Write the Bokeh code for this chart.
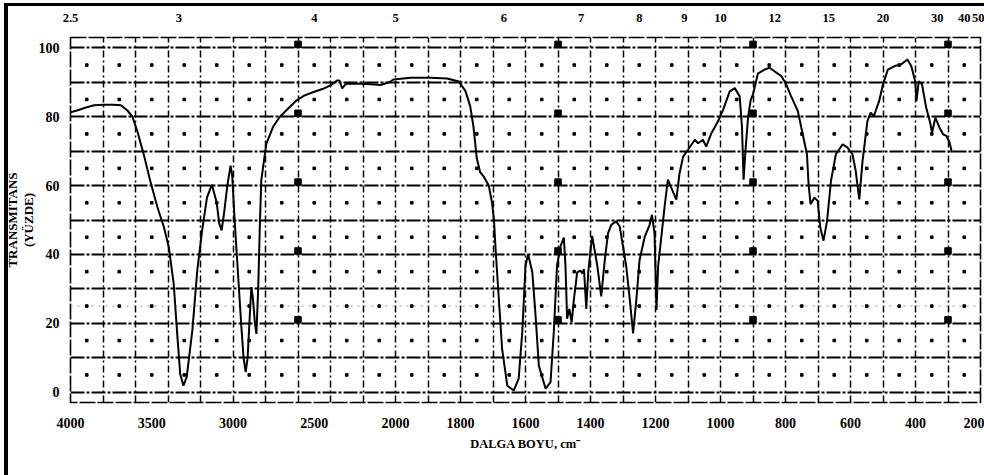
import numpy as np
from bokeh.plotting import figure
from bokeh.models import (LinearAxis, FixedTicker, CustomJSTickFormatter, Range1d,
                          ColumnDataSource)
from bokeh.embed import file_html
from bokeh.resources import INLINE

# ---------------- data ----------------
wavenumber = [4000, 3960, 3910, 3855, 3795, 3735, 3690, 3650, 3620, 3590, 3550, 3510,
              3465, 3425, 3395, 3365, 3345, 3325, 3305, 3285, 3250, 3220, 3190, 3160,
              3130, 3100, 3085, 3070, 3055, 3035, 3015, 3005, 2990, 2970, 2950, 2935,
              2922, 2910, 2897, 2887, 2877, 2865, 2856, 2845, 2835, 2826, 2795, 2754,
              2713, 2662, 2610, 2559, 2508, 2446, 2400, 2360, 2345, 2328, 2310, 2297,
              2215, 2150, 2092, 2040, 2012, 1954, 1892, 1841, 1805, 1785, 1770, 1760,
              1750, 1740, 1728, 1713, 1703, 1697, 1692, 1682, 1672, 1656, 1636, 1621,
              1610, 1600, 1592, 1579, 1569, 1559, 1538, 1523, 1513, 1503, 1492, 1482,
              1477, 1472, 1465, 1458, 1451, 1441, 1431, 1425, 1420, 1413, 1407, 1395,
              1379, 1367, 1356, 1346, 1336, 1321, 1310, 1300, 1290, 1279, 1269, 1259,
              1249, 1233, 1218, 1211, 1203, 1197, 1192, 1182, 1172, 1162, 1149, 1136,
              1126, 1115, 1100, 1079, 1069, 1054, 1044, 1028, 1008, 992, 972, 956,
              941, 934, 929, 923, 915, 907, 900, 885, 864, 849, 834, 813, 798, 783,
              762, 747, 734, 729, 723, 711, 701, 693, 683, 672, 660, 645, 624, 609,
              594, 584, 573, 563, 548, 538, 528, 512, 500, 485, 464, 444, 425, 413,
              401, 397, 390, 380, 367, 356, 349, 339, 326, 315, 305, 295, 288]
transmittance = [81.3, 81.8, 82.6, 83.3, 83.5, 83.5, 83.3, 81.8, 80.1, 76.0, 69.2, 61.5,
                 53.7, 47.9, 42.1, 31.5, 18.0, 5.3, 1.9, 4.4, 18.0, 35.3, 47.0, 56.6,
                 60.3, 55.0, 49.0, 47.0, 52.0, 60.0, 65.8, 63.0, 50.0, 35.0, 20.0, 10.0,
                 5.8, 10.0, 22.0, 30.5, 27.0, 20.0, 16.9, 30.0, 48.0, 61.5, 72.1, 77.0,
                 79.9, 82.3, 84.7, 86.2, 87.1, 88.1, 89.1, 90.5, 90.5, 88.2, 89.3, 89.6,
                 89.6, 89.4, 89.2, 90.0, 90.8, 91.3, 91.3, 91.1, 90.2, 87.5, 83.0, 77.0,
                 68.0, 64.0, 62.5, 60.0, 55.0, 50.0, 41.5, 27.0, 12.6, 1.9, 0.5, 3.9,
                 17.4, 36.7, 40.1, 34.8, 22.2, 7.7, 1.0, 2.9, 17.4, 36.7, 42.5, 44.9,
                 36.7, 21.3, 24.2, 20.3, 27.0, 34.8, 35.3, 34.5, 35.7, 24.2, 34.8, 45.4,
                 36.7, 27.8, 38.4, 46.2, 48.6, 49.6, 48.1, 42.3, 36.5, 26.8, 17.1, 26.8,
                 38.4, 45.2, 48.6, 51.5, 46.2, 23.9, 36.5, 45.2, 53.9, 61.7, 58.8, 55.9,
                 63.6, 68.4, 70.4, 73.3, 72.3, 73.3, 71.3, 75.2, 78.6, 82.0, 87.3, 88.3,
                 85.9, 77.2, 61.7, 70.4, 80.0, 84.9, 86.5, 92.5, 93.7, 94.2, 93.2, 91.8,
                 89.4, 86.0, 81.6, 74.9, 69.1, 60.4, 54.6, 56.5, 55.6, 47.8, 44.0, 49.8,
                 61.4, 69.1, 72.0, 71.0, 69.1, 64.3, 56.0, 67.1, 78.7, 81.2, 80.2, 84.5,
                 89.4, 93.7, 94.7, 95.2, 96.6, 94.7, 90.3, 84.5, 90.3, 89.4, 82.6, 78.7,
                 75.4, 79.7, 76.8, 74.9, 74.4, 72.5, 69.6]

bottom_tick_wn = [4000, 3500, 3000, 2500, 2000, 1800, 1600, 1400, 1200, 1000, 800, 600, 400, 200]
top_tick_um = [2.5, 3, 4, 5, 6, 7, 8, 9, 10, 12, 15, 20, 30, 40, 50]
y_ticks = [0, 20, 40, 60, 80, 100]
grid_wn = list(range(4000, 2000, -200)) + list(range(2000, 199, -100))
grid_t = list(range(0, 101, 10))
calib_wn = [2600, 1500, 900, 300]
calib_t = [21, 41, 61, 81, 101]

# chart paper: 200 cm-1 per division above 2000, 100 cm-1 per division below
WN_BREAK = [200, 2000, 4000]
DIV_BREAK = [28, 10, 0]


def to_div(w):
    return np.interp(np.asarray(w, dtype=float), WN_BREAK, DIV_BREAK)


FONT = "Liberation Serif"
W, H = 984, 475

p = figure(width=W, height=H, x_range=Range1d(0, 28), y_range=Range1d(-3, 103),
           output_backend="svg", toolbar_location=None,
           min_border_left=70, min_border_right=4, min_border_top=37, min_border_bottom=73,
           x_axis_location=None, y_axis_location=None)
p.background_fill_color = "white"
p.border_fill_color = None
p.outline_line_color = "black"
p.outline_line_width = 1.6
p.outline_line_dash = "16 2"
# thick black edge of the scanned sheet (left and top), drawn without changing the layout
p.styles = {"box-shadow": "inset 4px 3px 0 0 white, inset 8px 6px 0 0 black",
            "background-color": "white"}

js_wn = "const w = tick <= 10 ? 4000 - tick*200 : 2000 - (tick-10)*100;"

xb = LinearAxis(ticker=FixedTicker(ticks=list(to_div(bottom_tick_wn))),
                formatter=CustomJSTickFormatter(code=js_wn + " return String(Math.round(w));"),
                axis_label="DALGA BOYU, cm\u207b")
xt = LinearAxis(ticker=FixedTicker(ticks=list(to_div([10000.0 / u for u in top_tick_um]))),
                formatter=CustomJSTickFormatter(code=js_wn + " return String(Math.round(100000/w)/10);"))
yl = LinearAxis(ticker=FixedTicker(ticks=y_ticks), axis_label="TRANSM\u0130TANS\n(Y\u00dcZDE)")

for ax in (xb, xt, yl):
    ax.axis_line_color = None
    ax.major_tick_line_color = None
    ax.minor_tick_line_color = None
    ax.major_label_text_font = FONT
    ax.major_label_text_font_style = "bold"
    ax.major_label_text_font_size = "14px"
    ax.major_label_text_color = "black"
    ax.axis_label_text_font = FONT
    ax.axis_label_text_font_style = "bold"
    ax.axis_label_text_font_size = "12.5px"
    ax.axis_label_text_color = "black"

xb.major_label_standoff = 9
xb.axis_label_standoff = 6
xt.major_label_standoff = 10
xt.major_label_text_font_size = "12.5px"
yl.major_label_standoff = 5
yl.axis_label_standoff = 0
yl.axis_label_text_font_size = "13px"
yl.axis_label_text_line_height = 1.05

p.add_layout(xb, "below")
p.add_layout(xt, "above")
p.add_layout(yl, "left")

# grid of the chart paper
p.xgrid.ticker = FixedTicker(ticks=list(to_div(grid_wn)))
p.xgrid.grid_line_color = "black"
p.xgrid.grid_line_width = 1.5
p.xgrid.grid_line_dash = "7 3 2 3"
p.ygrid.ticker = FixedTicker(ticks=grid_t)
p.ygrid.grid_line_color = "black"
p.ygrid.grid_line_width = 2.2
p.ygrid.grid_line_dash = "14 2 3 2"

# faint dotted guide line of the scan
p.line(x=[0, 28], y=[25, 25], line_color="#9a9a9a", line_width=1, line_dash="2 5")

# dots in the middle of each division
cx, cy = [], []
gd = to_div(grid_wn)
for i in range(len(gd) - 1):
    for j in range(len(grid_t) - 1):
        cx.append((gd[i] + gd[i + 1]) / 2)
        cy.append((grid_t[j] + grid_t[j + 1]) / 2)
p.scatter(x=cx, y=cy, marker="square", size=2.6, color="black")

# calibration squares
sx, sy = [], []
for w in calib_wn:
    for t in calib_t:
        sx.append(float(to_div(w)))
        sy.append(t)
p.scatter(x=sx, y=sy, marker="square", size=6.5, color="black")

# spectrum
src = ColumnDataSource(dict(x=to_div(wavenumber), y=transmittance))
p.line(x="x", y="y", source=src, line_color="black", line_width=2.0)

open("out.html", "w").write(file_html(p, INLINE))
